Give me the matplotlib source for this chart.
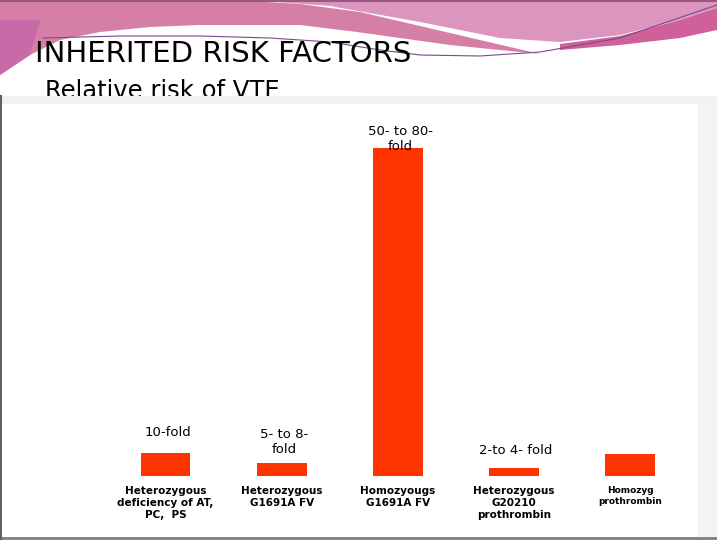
import matplotlib.pyplot as plt
from matplotlib.patches import Polygon, Rectangle

categories = ["Heterozygous\ndeficiency of AT,\nPC,  PS",
              "Heterozygous\nG1691A FV",
              "Homozyougs\nG1691A FV",
              "Heterozygous\nG20210\nprothrombin",
              "Homozyg\nprothrombin"]
values = [7.0, 4.0, 100.0, 2.4, 6.7]
fold_labels = ["10-fold", "5- to 8-\nfold", "50- to 80-\nfold", "2-to 4- fold", ""]
label_dy = [4.3, 2.1, -1.5, 3.4, 0]

BAR = "#ff3300"

fig = plt.figure(figsize=(7.17, 5.4), dpi=100)

# slide background (pixel coordinates)
bg = fig.add_axes([0, 0, 1, 1], zorder=0)
bg.set_xlim(0, 717)
bg.set_ylim(540, 0)
bg.axis("off")

# upper-right pink swoosh
bg.add_patch(Polygon([(250, 0), (717, 0), (717, 8), (680, 20), (620, 35),
                      (560, 42), (500, 38), (420, 22), (330, 6)],
                     closed=True, color="#db95bf", lw=0))
bg.add_patch(Polygon([(560, 44), (620, 36), (680, 20), (717, 8), (717, 30),
                      (680, 38), (620, 45), (560, 50)],
                     closed=True, color="#d0609a", lw=0))
# left pink wedge
bg.add_patch(Polygon([(0, 0), (235, 0), (300, 4), (360, 12), (420, 26),
                      (480, 40), (540, 54), (450, 45), (357, 32), (300, 25),
                      (200, 25), (150, 27), (100, 32), (60, 40), (30, 55),
                      (0, 75)],
                     closed=True, color="#d67fa6", lw=0))
bg.add_patch(Polygon([(0, 20), (40, 20), (30, 55), (0, 75)],
                     closed=True, color="#c86aa8", lw=0))
bg.plot([0, 717], [1, 1], color="#9a5a80", lw=1.5)
# thin swoosh lines
bg.plot([43, 120, 200, 270, 330, 380, 420, 480, 540, 620, 717],
        [38, 36, 36, 38, 42, 50, 55, 56, 52, 38, 5], color="#7a4a8a", lw=0.8)

bg.text(35, 62, "INHERITED RISK FACTORS", fontsize=21, color="black",
        va="baseline", ha="left", family="DejaVu Sans")
bg.text(45, 98, "Relative risk of VTE", fontsize=17.5, color="black",
        va="baseline", ha="left", family="DejaVu Sans")

# frame bits around the chart area
bg.add_patch(Rectangle((0, 96), 717, 444, color="#f2f2f2", lw=0, zorder=4))
bg.add_patch(Rectangle((698, 100), 19, 440, color="#f3f3f3", lw=0, zorder=4))
bg.plot([0, 717], [538, 538], color="#7f7f7f", lw=2, zorder=5)
bg.plot([0.5, 0.5], [96, 540], color="#606060", lw=1.5, zorder=5)

# chart
ax = fig.add_axes([2 / 717, 3 / 540, 696 / 717, 433 / 540], zorder=2)
ax.set_facecolor("white")
x = list(range(len(values)))
ax.bar(x, values, width=0.43, color=BAR)
ax.set_xlim(-1.408, 4.586)
ax.set_ylim(-18.6, 113.4)
for s in ax.spines.values():
    s.set_visible(False)
ax.set_xticks([])
ax.set_yticks([])

for i, (v, lab, dy) in enumerate(zip(values, fold_labels, label_dy)):
    if lab:
        ax.text(i + 0.02, v + dy, lab, ha="center", va="bottom",
                fontsize=9.5, linespacing=1.15)

for i, cat in enumerate(categories):
    fs = 6.5 if i == 4 else 7.5
    ax.text(i, -3.0, cat, ha="center", va="top", fontsize=fs,
            fontweight="bold", linespacing=1.25)

fig.savefig("out.png", dpi=100)
